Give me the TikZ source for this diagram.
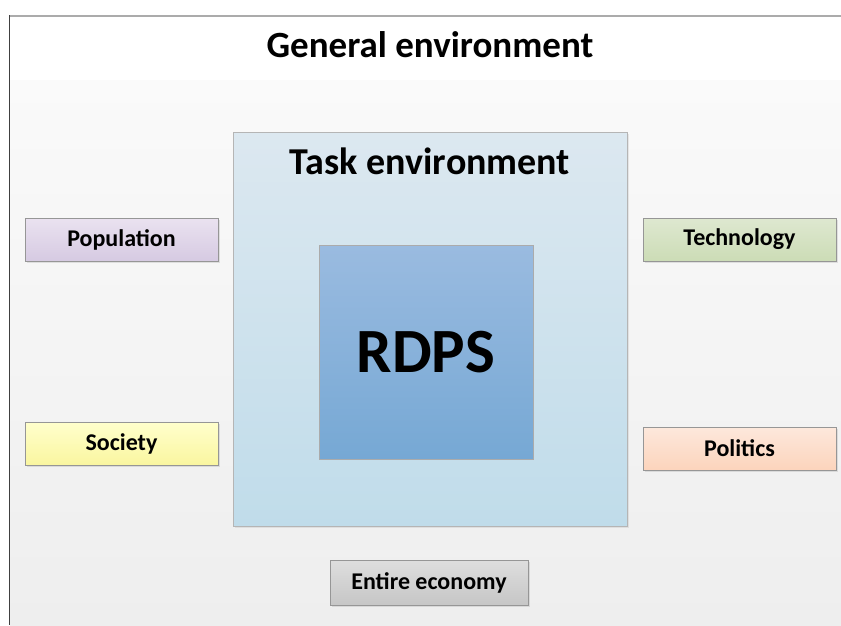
\documentclass[tikz,border=0pt]{standalone}
\usepackage{fontspec}
\setmainfont{Carlito}
\usetikzlibrary{shadows}
\definecolor{framegray}{RGB}{150,150,150}
\definecolor{bandtop}{RGB}{250,250,250}
\definecolor{bandbot}{RGB}{238,238,238}
\definecolor{tasktop}{RGB}{220,232,240}
\definecolor{taskbot}{RGB}{192,220,234}
\definecolor{coretop}{RGB}{154,187,224}
\definecolor{corebot}{RGB}{118,168,212}
\definecolor{lilactop}{RGB}{234,226,240}
\definecolor{lilacbot}{RGB}{214,202,226}
\definecolor{greentop}{RGB}{222,232,208}
\definecolor{greenbot}{RGB}{204,220,182}
\definecolor{yellowtop}{RGB}{255,255,204}
\definecolor{yellowbot}{RGB}{250,246,160}
\definecolor{peachtop}{RGB}{253,232,220}
\definecolor{peachbot}{RGB}{252,212,188}
\definecolor{greytop}{RGB}{222,222,222}
\definecolor{greybot}{RGB}{198,198,198}
\tikzstyle{factor} = [rectangle, minimum width=193pt, minimum height=43pt, draw=framegray, line width=0.8pt, font=\fontsize{24}{27}\selectfont\bfseries, drop shadow={shadow xshift=1.5pt, shadow yshift=-1.5pt, opacity=0.2}]
\tikzstyle{taskbox} = [rectangle, minimum width=394pt, minimum height=394pt, draw=framegray!70, line width=0.6pt, top color=tasktop, bottom color=taskbot, drop shadow={shadow xshift=2pt, shadow yshift=-2pt, opacity=0.15}]
\tikzstyle{corebox} = [rectangle, minimum width=214pt, minimum height=214pt, draw=framegray!80, line width=0.6pt, top color=coretop, bottom color=corebot, font=\fontsize{63}{66}\selectfont\bfseries]

\begin{document}
\begin{tikzpicture}[x=1pt,y=-1pt]
\useasboundingbox (0,0) rectangle (841,625);
% backdrop and frame of the general environment
\fill[white] (0,0) rectangle (841,625);
\shade[top color=bandtop, bottom color=bandbot] (10,80) rectangle (841,625);
\draw[line width=2pt, framegray!80] (9,15.5) -- (841,15.5);
\draw[line width=1.5pt, black!75] (9.5,15) -- (9.5,625);
\node (general) at (430,45) {\fontsize{37}{40}\selectfont\bfseries General environment};
% task environment with the firm inside
\node (task) [taskbox] at (430,329) {};
\node (tasktitle) [yshift=-30pt] at (task.north) {\fontsize{38}{41}\selectfont\bfseries Task environment};
\node (rdps) [corebox, xshift=-4pt, yshift=-23pt] at (task.center) {RDPS};
% factors of the general environment
\node (population) [factor, top color=lilactop, bottom color=lilacbot] at (121.5,239.5) {Population};
\node (society) [factor, top color=yellowtop, bottom color=yellowbot] at (121.5,443.5) {Society};
\node (technology) [factor, top color=greentop, bottom color=greenbot] at (739.5,239.5) {Technology};
\node (politics) [factor, top color=peachtop, bottom color=peachbot] at (739.5,448.5) {Politics};
\node (economy) [factor, minimum width=198pt, minimum height=45pt, top color=greytop, bottom color=greybot] at (429,582.5) {Entire economy};
\end{tikzpicture}
\end{document}
